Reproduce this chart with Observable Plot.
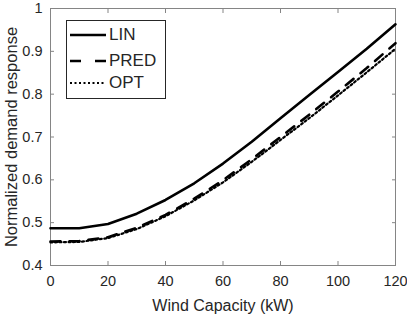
<!DOCTYPE html>
<html>
<head>
<meta charset="utf-8">
<script src="https://cdn.jsdelivr.net/npm/d3@7"></script>
<script src="https://cdn.jsdelivr.net/npm/@observablehq/plot@0.6"></script>
<style>
  html, body { margin: 0; padding: 0; background: #fff; }
  #wrap { position: relative; width: 407px; height: 314px; font-family: "Liberation Sans", Arial, Helvetica, sans-serif; color: #262626; }
  #legend { position: absolute; left: 66px; top: 20px; width: 100px; height: 79px; border: 1px solid #262626; background: #fff; box-sizing: border-box; }
  .entry { position: absolute; left: 0; height: 22px; display: flex; align-items: center; font-size: 17px; line-height: 22px; }
  .entry svg { margin-left: 3px; margin-right: 3px; }
</style>
</head>
<body>
<div id="wrap"></div>
<script>
const capacity = [0, 10, 20, 30, 40, 50, 60, 70, 80, 90, 100, 110, 120];
const lin  = [0.487, 0.487, 0.497, 0.521, 0.553, 0.592, 0.638, 0.689, 0.744, 0.798, 0.852, 0.906, 0.963];
const pred = [0.456, 0.457, 0.466, 0.488, 0.518, 0.556, 0.599, 0.648, 0.700, 0.752, 0.806, 0.861, 0.919];
const opt  = [0.454, 0.455, 0.464, 0.485, 0.515, 0.552, 0.594, 0.642, 0.693, 0.744, 0.797, 0.851, 0.906];
const seriesNames = ["LIN", "PRED", "OPT"];
const xTicks = [0, 20, 40, 60, 80, 100, 120];
const yTicks = [0.4, 0.5, 0.6, 0.7, 0.8, 0.9, 1];
const yTickLabels = ["0.4", "0.5", "0.6", "0.7", "0.8", "0.9", "1"];
const xLabel = "Wind Capacity (kW)";
const yLabel = "Normalized demand response";

const seriesValues = {LIN: lin, PRED: pred, OPT: opt};
const rows = seriesNames.flatMap(s => capacity.map((c, i) => ({series: s, x: c, y: seriesValues[s][i]})));

const styles = {
  LIN:  {strokeWidth: 2.6, strokeDasharray: null},
  PRED: {strokeWidth: 2.6, strokeDasharray: "10,9"},
  OPT:  {strokeWidth: 2.2, strokeDasharray: "2,2.5"}
};

const axisColor = "#858585";
const textColor = "#262626";

const chart = Plot.plot({
  width: 407,
  height: 314,
  marginLeft: 50,
  marginRight: 12,
  marginTop: 8,
  marginBottom: 49,
  style: {fontFamily: "Liberation Sans, Arial, Helvetica, sans-serif", fontSize: "15px", color: textColor, background: "white", overflow: "visible"},
  x: {domain: [0, 120]},
  y: {domain: [0.4, 1]},
  marks: [
    Plot.frame({stroke: axisColor, strokeWidth: 1}),
    // inward tick marks on all four sides
    Plot.axisX(xTicks, {anchor: "bottom", tickSize: -4, tickFormat: () => "", label: null, stroke: axisColor}),
    Plot.axisX(xTicks, {anchor: "top", tickSize: -4, tickFormat: () => "", label: null, stroke: axisColor}),
    Plot.axisY(yTicks, {anchor: "left", tickSize: -4, tickFormat: () => "", label: null, stroke: axisColor}),
    Plot.axisY(yTicks, {anchor: "right", tickSize: -4, tickFormat: () => "", label: null, stroke: axisColor}),
    // tick labels
    Plot.axisX(xTicks, {anchor: "bottom", tickSize: 0, tickPadding: 10, fontSize: 14.5, fill: textColor, label: null}),
    Plot.axisY(yTicks, {anchor: "left", tickSize: 0, tickPadding: 8, fontSize: 14.5, fill: textColor,
      tickFormat: d => yTickLabels[yTicks.indexOf(d)], label: null}),
    // axis titles
    Plot.axisX([], {anchor: "bottom", tickSize: 0, fontSize: 16, fill: textColor,
      label: xLabel, labelAnchor: "center", labelArrow: "none", labelOffset: 45}),
    Plot.axisY([], {anchor: "left", tickSize: 0, fontSize: 16.5, fill: textColor,
      label: yLabel, labelAnchor: "center", labelArrow: "none", labelOffset: 45}),
    ...seriesNames.map(s => Plot.line(rows.filter(r => r.series === s), {
      x: "x", y: "y", stroke: "black",
      strokeWidth: styles[s].strokeWidth,
      strokeDasharray: styles[s].strokeDasharray
    }))
  ]
});

const wrap = document.getElementById("wrap");
wrap.appendChild(chart);

// legend overlay
const legend = document.createElement("div");
legend.id = "legend";
const rowTops = [3, 28.5, 51];
seriesNames.forEach((s, i) => {
  const e = document.createElement("div");
  e.className = "entry";
  e.style.top = rowTops[i] + "px";
  const st = styles[s];
  e.innerHTML = `<svg width="36" height="10"><line x1="0" y1="5" x2="36" y2="5" stroke="black" stroke-width="${st.strokeWidth}" ${st.strokeDasharray ? `stroke-dasharray="${s === "PRED" ? "11,14" : st.strokeDasharray}"` : ""}/></svg><span>${s}</span>`;
  legend.appendChild(e);
});
wrap.appendChild(legend);
</script>
</body>
</html>
